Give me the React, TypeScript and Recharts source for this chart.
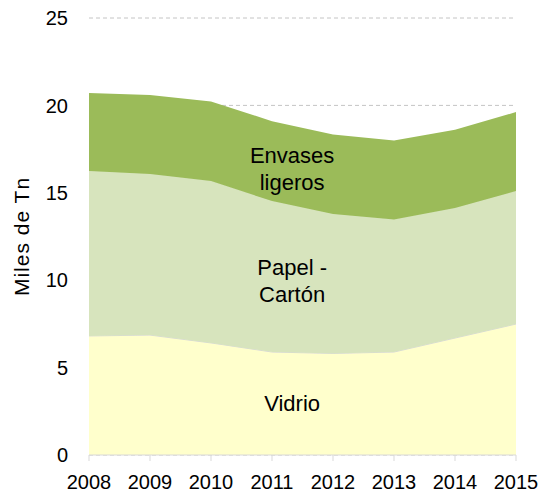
import { Area, AreaChart, CartesianGrid, ReferenceDot, XAxis, YAxis } from "recharts"

const years = [2008, 2009, 2010, 2011, 2012, 2013, 2014, 2015]
const vidrio = [6.81, 6.86, 6.41, 5.89, 5.81, 5.89, 6.69, 7.49]
const papel = [9.44, 9.22, 9.26, 8.64, 7.98, 7.58, 7.44, 7.61]
const envases = [4.46, 4.52, 4.55, 4.57, 4.54, 4.52, 4.47, 4.52]
const yTicks = [0, 5, 10, 15, 20, 25]

// area labels: text lines + where they sit in data space
const areaLabels = [
  { lines: ["Envases", "ligeros"], x: 2011.33, y: 16.39 },
  { lines: ["Papel -", "Cartón"], x: 2011.33, y: 9.98 },
  { lines: ["Vidrio"], x: 2011.33, y: 2.95 },
]

const chartData = years.map((year, i) => ({
  year,
  vidrio: vidrio[i],
  papel: papel[i],
  envases: envases[i],
}))

const LINE_H = 27

const AreaText = (props: any, lines: string[]) => {
  const { cx, cy } = props
  const first = cy - ((lines.length - 1) * LINE_H) / 2 + 8
  return (
    <text x={cx} textAnchor="middle" fontSize={22} fill="#000">
      {lines.map((l, i) => (
        <tspan key={l} x={cx} y={first + i * LINE_H}>
          {l}
        </tspan>
      ))}
    </text>
  )
}

const App = () => {
  return (
    <div style={{ position: "absolute", left: 0, top: 0, fontFamily: "'Liberation Sans', Arial, sans-serif" }}>
      <AreaChart width={542} height={495} data={chartData} margin={{ top: 18, right: 26, bottom: 0, left: 0 }}>
        <CartesianGrid vertical={false} stroke="#C4C4C4" strokeDasharray="4 3" />
        <XAxis
          dataKey="year"
          type="number"
          domain={[2008, 2015]}
          ticks={years}
          height={40}
          stroke="#D9D9D9"
          tickSize={6}
          tickMargin={14}
          tick={{ fill: "#000", fontSize: 20 }}
          interval={0}
        />
        <YAxis
          domain={[0, 25]}
          ticks={yTicks}
          width={89}
          axisLine={false}
          tickLine={false}
          tickSize={6}
          tickMargin={15}
          tick={{ fill: "#000", fontSize: 20 }}
          label={{
            value: "Miles de Tn",
            angle: -90,
            position: "insideLeft",
            offset: 22,
            fill: "#000",
            fontSize: 21,
            style: { textAnchor: "middle", letterSpacing: 1 },
          }}
        />
        <Area type="linear" dataKey="vidrio" stackId="1" fill="#FFFFCC" fillOpacity={1} stroke="#D9D9D9" strokeWidth={1} isAnimationActive={false} />
        <Area type="linear" dataKey="papel" stackId="1" fill="#D7E4BD" fillOpacity={1} stroke="#D7E4BD" strokeWidth={1} isAnimationActive={false} />
        <Area type="linear" dataKey="envases" stackId="1" fill="#9BBB59" fillOpacity={1} stroke="none" isAnimationActive={false} />
        {areaLabels.map((a) => (
          <ReferenceDot key={a.lines[0]} x={a.x} y={a.y} r={0} shape={(p: any) => AreaText(p, a.lines)} />
        ))}
      </AreaChart>
    </div>
  )
}

export default App
